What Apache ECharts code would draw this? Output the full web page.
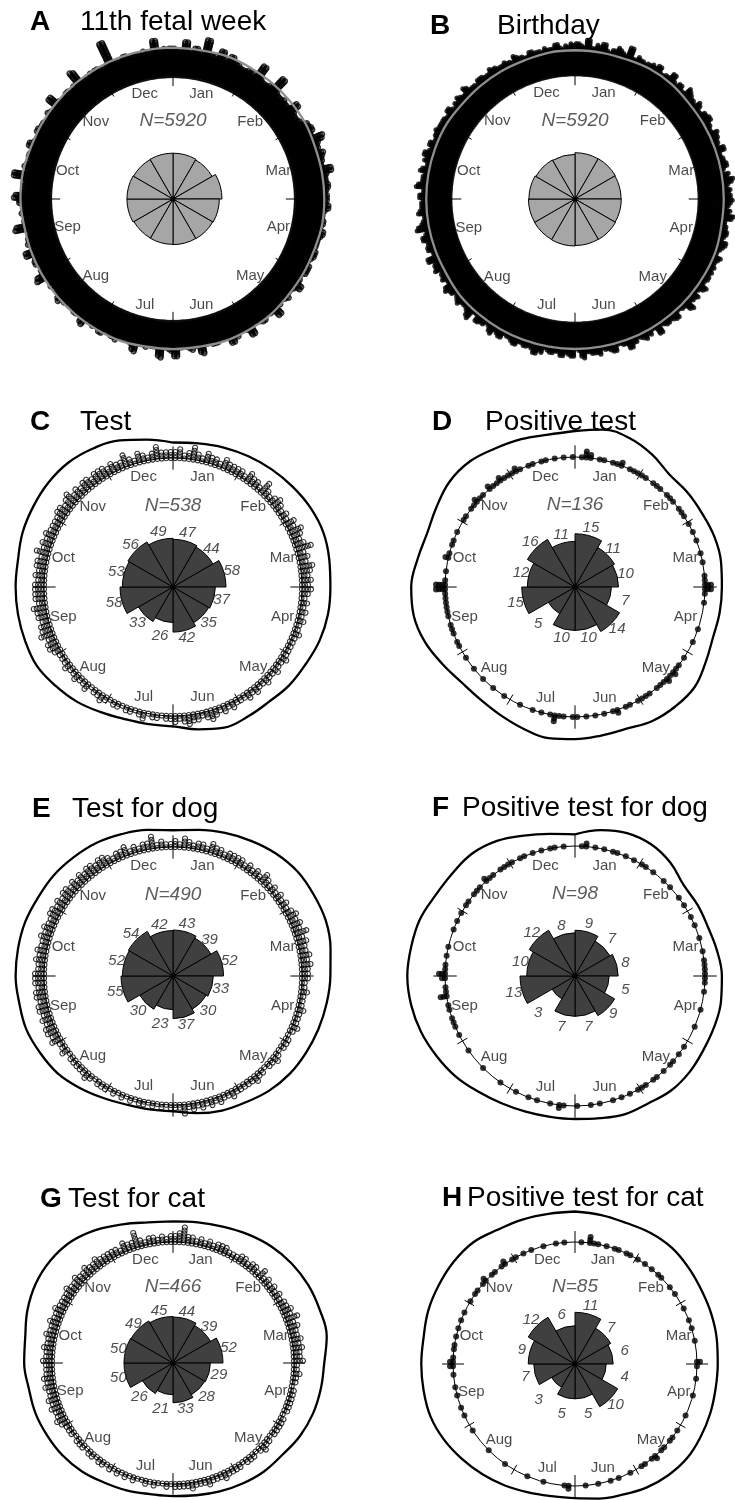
<!DOCTYPE html>
<html>
<head>
<meta charset="utf-8">
<script src="https://cdn.jsdelivr.net/npm/echarts@6/dist/echarts.min.js"></script>
<style>
  html, body { margin: 0; padding: 0; background: #fff; }
  #chart { width: 735px; height: 1500px; }
</style>
</head>
<body>
<div id="chart"></div>
<script>
// Month names, one per 30° sector clockwise from the top (1 January)
const months = ['Jan', 'Feb', 'Mar', 'Apr', 'May', 'Jun', 'Jul', 'Aug', 'Sep', 'Oct', 'Nov', 'Dec'];

// Counts per 30° sector (rose diagrams)
const fetalWeekCounts   = [490, 475, 560, 500, 490, 485, 480, 475, 495, 495, 485, 490];
const birthdayCounts    = [495, 500, 490, 495, 505, 500, 510, 505, 500, 490, 470, 460];
const testCounts        = [47, 44, 58, 37, 35, 42, 26, 33, 58, 53, 56, 49];
const positiveCounts    = [15, 11, 10, 7, 14, 10, 10, 5, 15, 12, 16, 11];
const dogTestCounts     = [43, 39, 52, 33, 30, 37, 23, 30, 55, 52, 54, 42];
const dogPositiveCounts = [9, 7, 8, 5, 9, 7, 7, 3, 13, 10, 12, 8];
const catTestCounts     = [44, 39, 52, 29, 28, 33, 21, 26, 50, 50, 49, 45];
const catPositiveCounts = [11, 7, 6, 4, 10, 5, 5, 3, 7, 9, 12, 6];

// Stacked points: two-degree bins, one row of 15 bins per sector
const fetalWeekBins = [
  [31,30,40,29,34,30,46,30,29,38,29,36,31,29,28],
  [30,29,44,29,28,30,46,29,28,29,28,38,29,28,30],
  [36,38,34,45,37,35,39,36,34,44,37,36,38,35,36],
  [35,38,33,32,34,31,36,33,32,31,34,33,30,34,34],
  [30,32,38,31,30,33,29,31,40,32,30,34,31,29,40],
  [31,30,33,38,30,29,32,31,30,39,30,33,29,30,40],
  [33,30,41,30,29,31,30,39,31,29,30,33,31,29,34],
  [30,31,29,37,30,32,29,30,31,35,30,29,31,30,41],
  [32,30,34,31,40,30,33,31,29,43,32,30,33,31,36],
  [41,32,30,31,44,30,33,29,32,30,36,31,30,34,32],
  [31,30,33,29,42,31,30,32,29,31,45,30,29,31,32],
  [29,30,56,30,29,32,30,30,29,31,29,42,30,31,32]
];
const birthdayBins = [
  [34,31,38,30,33,36,29,32,35,31,40,30,33,31,32],
  [33,36,30,32,38,31,34,30,37,33,31,35,30,34,36],
  [32,30,35,33,31,36,30,32,34,29,33,37,31,33,34],
  [35,31,33,37,30,32,34,31,36,33,30,35,32,33,33],
  [34,32,37,31,35,33,39,32,30,36,33,34,31,38,30],
  [33,35,31,34,38,32,30,36,33,31,35,34,32,37,29],
  [36,33,36,32,34,31,35,38,33,34,32,36,33,31,36],
  [33,37,31,34,36,30,39,33,32,35,31,34,37,30,33],
  [31,35,33,38,30,34,32,36,31,39,33,30,35,32,31],
  [34,30,37,32,31,35,30,33,36,31,34,30,32,33,32],
  [32,30,34,29,31,33,30,35,30,29,32,31,30,33,31],
  [30,31,29,33,30,28,32,30,29,31,30,34,29,31,33]
];
const testBins = [
  [3,4,2,3,5,3,2,4,3,3,2,4,3,3,3],
  [3,2,4,3,3,2,5,3,2,3,4,3,2,3,2],
  [4,3,5,4,3,4,6,3,4,3,5,4,3,4,3],
  [4,3,2,3,2,3,2,3,2,2,3,2,2,2,2],
  [2,3,2,2,3,2,2,3,2,2,3,2,3,2,2],
  [2,3,2,3,2,3,4,3,2,3,3,4,3,2,3],
  [2,2,1,2,2,1,3,2,1,2,2,1,2,2,1],
  [2,3,2,2,1,3,2,2,3,2,2,3,2,2,2],
  [3,4,4,3,5,4,4,3,4,4,5,3,4,4,4],
  [4,3,4,3,4,4,3,5,3,4,3,4,3,3,3],
  [3,4,4,3,4,5,3,4,3,4,4,3,4,4,4],
  [3,4,3,3,5,3,2,4,3,2,3,5,3,3,3]
];
const positiveBins = [
  [0,1,3,2,0,1,1,0,1,1,2,0,1,1,1],
  [1,1,0,1,1,1,0,1,1,1,0,1,1,1,0],
  [1,0,1,0,1,0,0,1,0,1,0,0,1,1,3],
  [3,1,0,1,0,0,0,0,0,1,0,0,1,0,0],
  [0,1,0,1,1,2,1,2,1,1,1,0,1,1,1],
  [1,0,1,1,0,2,1,0,1,0,1,0,1,0,1],
  [1,0,1,1,3,1,0,1,0,1,0,0,1,0,0],
  [0,1,0,0,1,0,0,1,0,0,1,0,0,1,0],
  [0,1,1,0,1,1,1,0,1,1,1,1,1,1,4],
  [4,1,0,1,0,0,2,1,0,1,1,0,1,0,0],
  [1,1,0,1,1,2,1,1,0,2,1,1,2,1,1],
  [1,2,1,0,1,1,0,1,1,0,1,0,1,0,1]
];
const dogTestBins = [
  [3,2,4,3,2,3,3,2,4,3,3,2,3,3,3],
  [3,2,3,2,3,2,4,3,2,3,2,3,2,3,2],
  [3,4,3,4,3,5,3,4,3,3,4,3,4,3,3],
  [3,2,2,3,2,2,2,3,2,2,2,3,2,1,2],
  [2,2,1,2,3,2,2,1,2,2,3,2,2,2,2],
  [2,3,2,2,3,2,3,2,3,2,3,2,4,2,2],
  [2,1,2,1,2,1,2,2,1,2,1,2,1,2,1],
  [2,2,2,1,2,3,2,2,2,2,2,1,3,2,2],
  [4,3,4,4,3,4,3,4,4,3,4,4,3,4,4],
  [4,3,3,4,3,4,3,3,4,3,4,3,3,4,4],
  [3,4,3,4,4,3,4,3,4,3,4,4,3,4,4],
  [3,2,3,3,4,2,3,2,3,3,5,2,3,2,2]
];
const dogPositiveBins = [
  [0,1,2,0,1,0,1,0,1,1,0,1,0,1,0],
  [1,1,0,1,0,0,1,0,1,0,0,1,0,1,0],
  [0,1,0,1,0,0,1,0,0,1,0,1,1,1,1],
  [1,1,0,1,0,0,0,1,0,0,0,1,0,0,0],
  [0,1,0,1,0,1,1,0,1,0,1,1,0,1,1],
  [1,0,1,0,1,0,1,0,0,1,0,1,0,0,1],
  [0,0,1,2,0,1,0,0,1,0,1,0,0,1,0],
  [0,0,1,0,0,0,0,1,0,0,0,0,1,0,0],
  [0,1,0,1,1,1,0,1,1,0,3,1,1,0,2],
  [3,1,1,0,1,0,1,0,0,0,1,0,1,0,1],
  [0,1,1,0,1,1,1,0,2,1,1,0,1,1,1],
  [1,0,1,1,0,1,0,1,0,1,1,0,1,0,0]
];
const catTestBins = [
  [3,4,6,3,3,2,3,2,3,2,3,3,3,2,2],
  [2,3,3,2,3,3,2,4,2,3,2,3,2,3,2],
  [3,3,4,3,5,3,4,3,3,4,3,4,3,3,4],
  [2,2,3,2,2,1,2,2,2,2,2,2,1,2,2],
  [2,2,2,1,2,2,3,2,1,2,2,2,1,2,2],
  [2,2,3,2,2,2,3,2,2,2,3,2,2,2,2],
  [1,2,1,1,2,1,2,1,1,2,1,2,1,2,1],
  [2,1,2,2,1,2,2,1,2,2,2,1,2,2,2],
  [3,4,3,3,4,3,4,3,3,4,3,4,3,3,3],
  [4,3,3,4,3,3,4,3,3,4,3,3,4,3,3],
  [3,3,4,3,3,4,3,3,4,3,3,4,3,3,3],
  [3,3,2,4,3,3,6,3,2,3,3,2,3,2,3]
];
const catPositiveBins = [
  [0,1,0,3,1,1,0,1,0,1,1,0,1,1,0],
  [1,0,1,0,1,0,1,1,0,0,1,0,1,0,0],
  [0,1,0,0,1,0,1,0,0,1,0,0,0,0,2],
  [1,0,0,1,0,0,0,1,0,0,0,0,1,0,0],
  [0,1,0,1,1,0,1,1,0,2,1,0,1,1,0],
  [0,1,0,0,1,0,1,0,0,1,0,0,1,0,0],
  [0,2,1,0,0,0,0,1,0,0,0,1,0,0,0],
  [0,0,1,0,0,0,0,1,0,0,0,0,0,1,0],
  [0,0,1,0,1,0,0,1,0,1,0,0,1,0,2],
  [2,1,0,1,1,0,1,0,1,0,1,0,1,0,0],
  [1,0,1,1,0,1,2,0,1,1,0,1,2,0,1],
  [1,0,1,0,1,0,0,1,0,0,1,0,1,0,0]
];

// Kernel density outlines: radius relative to the unit circle, every 10° from the top
const fetalWeekDensity   = [1.22,1.22,1.23,1.23,1.23,1.23,1.23,1.22,1.22,1.22,1.22,1.21,1.21,1.21,1.22,1.22,1.22,1.21,1.21,1.21,1.22,1.22,1.22,1.22,1.22,1.22,1.22,1.23,1.23,1.22,1.22,1.22,1.22,1.22,1.22,1.22];
const birthdayDensity    = [1.19,1.19,1.19,1.20,1.20,1.19,1.19,1.19,1.19,1.19,1.19,1.20,1.20,1.20,1.20,1.20,1.20,1.20,1.20,1.20,1.20,1.20,1.20,1.20,1.19,1.19,1.19,1.19,1.19,1.19,1.19,1.18,1.18,1.18,1.18,1.19];
const testDensity        = [1.12,1.13,1.15,1.17,1.19,1.21,1.23,1.24,1.23,1.22,1.22,1.21,1.19,1.18,1.16,1.16,1.16,1.12,1.08,1.08,1.09,1.12,1.16,1.19,1.22,1.22,1.22,1.22,1.22,1.24,1.25,1.26,1.26,1.24,1.21,1.16];
const positiveDensity    = [1.20,1.23,1.22,1.18,1.13,1.13,1.13,1.14,1.14,1.13,1.13,1.13,1.16,1.20,1.20,1.19,1.16,1.16,1.17,1.18,1.16,1.14,1.13,1.14,1.18,1.23,1.26,1.26,1.23,1.21,1.23,1.26,1.26,1.23,1.21,1.19];
const dogTestDensity     = [1.13,1.15,1.18,1.21,1.24,1.26,1.26,1.26,1.24,1.22,1.21,1.20,1.19,1.18,1.16,1.13,1.11,1.08,1.05,1.05,1.06,1.09,1.13,1.17,1.19,1.21,1.21,1.22,1.22,1.22,1.21,1.21,1.20,1.19,1.17,1.15];
const dogPositiveDensity = [1.09,1.14,1.17,1.17,1.14,1.09,1.09,1.09,1.11,1.13,1.14,1.14,1.14,1.15,1.15,1.13,1.13,1.11,1.10,1.10,1.11,1.13,1.16,1.20,1.23,1.26,1.28,1.29,1.28,1.27,1.24,1.23,1.23,1.20,1.15,1.11];
const catTestDensity     = [1.17,1.18,1.20,1.23,1.26,1.28,1.29,1.29,1.29,1.25,1.24,1.23,1.21,1.18,1.17,1.15,1.13,1.11,1.10,1.10,1.12,1.14,1.17,1.19,1.20,1.21,1.21,1.23,1.24,1.28,1.31,1.32,1.31,1.27,1.22,1.18];
const catPositiveDensity = [1.25,1.24,1.23,1.24,1.24,1.22,1.20,1.19,1.18,1.17,1.17,1.18,1.19,1.20,1.19,1.17,1.14,1.12,1.10,1.10,1.12,1.15,1.18,1.21,1.24,1.26,1.26,1.26,1.26,1.28,1.29,1.30,1.30,1.27,1.26,1.25];

// Tick angles at the sector boundaries
const tickAngles = [0, 30, 60, 90, 120, 150, 180, 210, 240, 270, 300, 330];

const FONT = '"Liberation Sans", Arial, Helvetica, sans-serif';

const panels = [
  { letter: 'A', title: '11th fetal week', counts: fetalWeekCounts, bins: fetalWeekBins, density: fetalWeekDensity,
    cx: 173, cy: 199, r: 124, roseR: 49, roseFill: '#a6a6a6', densColor: '#8e8e8e', showCounts: false,
    open: true, size: 5, bw: 1.5, sep: 1.75, sub: 2, lx: 30, tx: 80, ty: 22 },
  { letter: 'B', title: 'Birthday', counts: birthdayCounts, bins: birthdayBins, density: birthdayDensity,
    cx: 575, cy: 199, r: 125, roseR: 47, roseFill: '#a6a6a6', densColor: '#8e8e8e', showCounts: false,
    open: false, size: 5, bw: 0, sep: 1.9, sub: 2, lx: 430, tx: 497, ty: 26 },
  { letter: 'C', title: 'Test', counts: testCounts, bins: testBins, density: testDensity,
    cx: 173, cy: 587, r: 129, roseR: 53, roseFill: '#404040', densColor: '#000', showCounts: true,
    open: true, size: 5, bw: 1.1, sep: 3, sub: 1, lx: 30, tx: 80, ty: 422 },
  { letter: 'D', title: 'Positive test', counts: positiveCounts, bins: positiveBins, density: positiveDensity,
    cx: 575, cy: 587, r: 130, roseR: 55, roseFill: '#404040', densColor: '#000', showCounts: true,
    open: false, size: 6, bw: 0, sep: 3, sub: 1, lx: 432, tx: 485, ty: 422 },
  { letter: 'E', title: 'Test for dog', counts: dogTestCounts, bins: dogTestBins, density: dogTestDensity,
    cx: 173, cy: 976, r: 129, roseR: 52, roseFill: '#404040', densColor: '#000', showCounts: true,
    open: true, size: 5, bw: 1.1, sep: 3, sub: 1, lx: 32, tx: 72, ty: 809 },
  { letter: 'F', title: 'Positive test for dog', counts: dogPositiveCounts, bins: dogPositiveBins, density: dogPositiveDensity,
    cx: 575, cy: 976, r: 130, roseR: 55, roseFill: '#404040', densColor: '#000', showCounts: true,
    open: false, size: 6, bw: 0, sep: 3, sub: 1, lx: 432, tx: 462, ty: 808 },
  { letter: 'G', title: 'Test for cat', counts: catTestCounts, bins: catTestBins, density: catTestDensity,
    cx: 173, cy: 1363, r: 121, roseR: 50, roseFill: '#404040', densColor: '#000', showCounts: true,
    open: true, size: 5, bw: 1.1, sep: 3, sub: 1, lx: 40, tx: 68, ty: 1199 },
  { letter: 'H', title: 'Positive test for cat', counts: catPositiveCounts, bins: catPositiveBins, density: catPositiveDensity,
    cx: 575, cy: 1364, r: 122, roseR: 54, roseFill: '#404040', densColor: '#000', showCounts: true,
    open: false, size: 6, bw: 0, sep: 3, sub: 1, lx: 442, tx: 467, ty: 1198 }
];

const hidden = {
  axisLine: { show: false }, axisTick: { show: false }, axisLabel: { show: false },
  splitLine: { show: false }, splitArea: { show: false }
};
const OUT = 1.5; // axis headroom beyond the unit circle

const option = {
  animation: false,
  backgroundColor: '#fff',
  textStyle: { fontFamily: FONT },
  polar: [], angleAxis: [], radiusAxis: [], series: [], graphic: []
};

panels.forEach((p, k) => {
  const ring = 2 * k, rose = 2 * k + 1;
  const rMax = Math.sqrt(Math.max(...p.counts));
  const total = p.counts.reduce((a, b) => a + b, 0);

  // circular data plot: angle in degrees, radius relative to the unit circle
  option.polar.push({ center: [p.cx, p.cy], radius: p.r * OUT });
  option.angleAxis.push(Object.assign({ polarIndex: ring, type: 'value', min: 0, max: 360, startAngle: 90, clockwise: true }, hidden));
  option.radiusAxis.push(Object.assign({ polarIndex: ring, type: 'value', min: 0, max: OUT }, hidden));

  // rose diagram: square-root radial scale
  option.polar.push({ center: [p.cx, p.cy], radius: p.roseR * OUT });
  option.angleAxis.push(Object.assign({ polarIndex: rose, type: 'category', data: months, startAngle: 90, clockwise: true, boundaryGap: true }, hidden));
  option.radiusAxis.push(Object.assign({ polarIndex: rose, type: 'value', min: 0, max: rMax * OUT }, hidden));

  // month names inside the circle
  option.series.push({
    type: 'scatter', coordinateSystem: 'polar', polarIndex: ring, silent: true, z: 2,
    symbolSize: 1, itemStyle: { color: 'rgba(0,0,0,0)' },
    data: months.map((m, i) => [0.88, 15 + 30 * i]),
    label: { show: true, position: 'inside', formatter: q => months[q.dataIndex],
      fontSize: 15, fontFamily: FONT, color: '#1a1a1a' }
  });

  // stacked observations
  const sepU = p.sep / p.r;
  const dots = [];
  p.bins.forEach((row, s) => row.forEach((c, j) => {
    const bin = s * 15 + j;
    for (let n = 0; n < c; n++) {
      const sub = n % p.sub, level = Math.floor(n / p.sub);
      dots.push([1 + level * sepU, bin * 2 + (sub + 0.5) * 2 / p.sub]);
    }
  }));
  option.series.push({
    type: 'scatter', coordinateSystem: 'polar', polarIndex: ring, silent: true, z: 3,
    progressive: 0, large: false, symbol: 'circle', symbolSize: p.size, data: dots,
    itemStyle: p.open ? { color: 'rgba(0,0,0,0)', borderColor: '#000', borderWidth: p.bw } : { color: '#000' }
  });

  // kernel density outline
  option.series.push({
    type: 'line', coordinateSystem: 'polar', polarIndex: ring, silent: true, z: 4, clip: false,
    data: p.density.map((v, i) => [v, i * 10]).concat([[p.density[0], 360]]),
    smooth: 0.4, symbol: 'none', lineStyle: { color: p.densColor, width: 2.3 }
  });

  // unit circle and sector ticks
  option.series.push({
    type: 'custom', coordinateSystem: 'polar', polarIndex: ring, silent: true, z: 5,
    data: tickAngles.map(a => [1, a]),
    renderItem: (params, api) => {
      const a = api.value(1);
      const major = a % 90 === 0;
      const p0 = api.coord([major ? 0.91 : 0.955, a]);
      const p1 = api.coord([major ? 1.09 : 1.045, a]);
      const children = [{ type: 'line', shape: { x1: p0[0], y1: p0[1], x2: p1[0], y2: p1[1] },
        style: { stroke: '#000', lineWidth: 1 } }];
      if (params.dataIndex === 0) {
        const c = api.coord([0, 0]), e = api.coord([1, 0]);
        children.push({ type: 'circle', shape: { cx: c[0], cy: c[1], r: Math.hypot(e[0] - c[0], e[1] - c[1]) },
          style: { fill: 'none', stroke: '#000', lineWidth: 1 } });
      }
      return { type: 'group', children };
    }
  });

  // sample size
  option.series.push({
    type: 'scatter', coordinateSystem: 'polar', polarIndex: ring, silent: true, z: 6,
    symbolSize: 1, itemStyle: { color: 'rgba(0,0,0,0)' }, data: [[0.63, 0]],
    label: { show: true, position: 'inside', formatter: 'N=' + total,
      fontSize: 19, fontStyle: 'italic', fontFamily: FONT, color: '#333' }
  });

  // rose sectors
  option.series.push({
    type: 'bar', coordinateSystem: 'polar', polarIndex: rose, silent: true, z: 6,
    data: p.counts.map(Math.sqrt), barCategoryGap: '0%',
    itemStyle: { color: p.roseFill, borderColor: '#000', borderWidth: 1 }
  });

  // sector counts
  if (p.showCounts) {
    option.series.push({
      type: 'scatter', coordinateSystem: 'polar', polarIndex: rose, silent: true, z: 7,
      symbolSize: 1, itemStyle: { color: 'rgba(0,0,0,0)' },
      data: p.counts.map((c, i) => [Math.max(Math.sqrt(c), 0.8 * rMax) + 0.15 * rMax, i]),
      label: { show: true, position: 'inside', formatter: q => String(p.counts[q.dataIndex]),
        fontSize: 15, fontStyle: 'italic', fontFamily: FONT, color: '#222' }
    });
  }

  // centre point
  option.series.push({
    type: 'scatter', coordinateSystem: 'polar', polarIndex: rose, silent: true, z: 8,
    symbolSize: 5, itemStyle: { color: '#000' }, data: [[0, 0]]
  });

  // panel heading
  option.graphic.push(
    { type: 'text', x: p.lx, y: p.ty, silent: true,
      style: { text: p.letter, font: 'bold 28px ' + FONT, fill: '#000', verticalAlign: 'middle', textVerticalAlign: 'middle' } },
    { type: 'text', x: p.tx, y: p.ty, silent: true,
      style: { text: p.title, font: '28px ' + FONT, fill: '#000', verticalAlign: 'middle', textVerticalAlign: 'middle' } }
  );
});

const chart = echarts.init(document.getElementById('chart'), null, { renderer: 'canvas' });
chart.setOption(option);
</script>
</body>
</html>
